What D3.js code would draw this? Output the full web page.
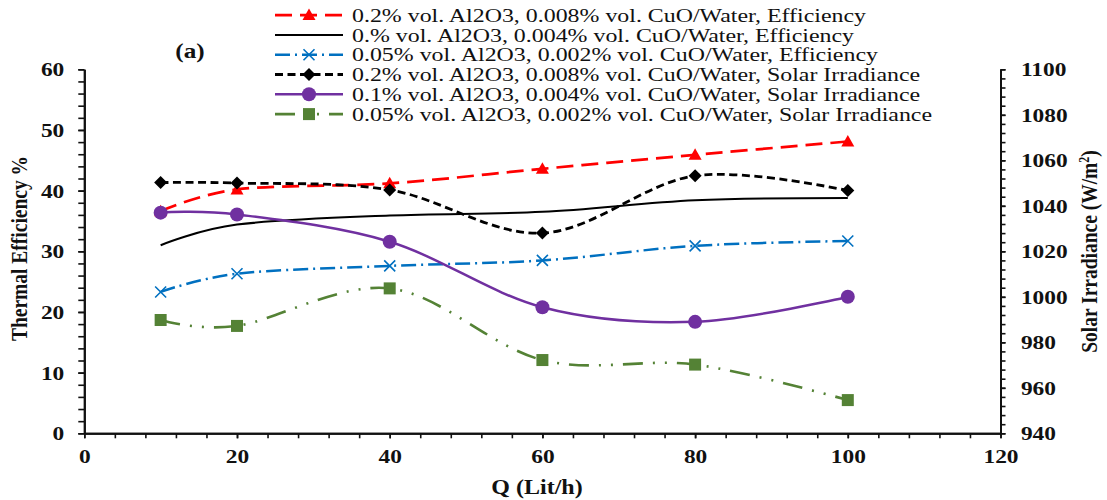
<!DOCTYPE html>
<html>
<head>
<meta charset="utf-8">
<script src="https://cdn.jsdelivr.net/npm/d3@7"></script>
<style>
html,body{margin:0;padding:0;background:#fff;}
svg{display:block;}
text{font-family:"Liberation Serif","Times New Roman",serif;}
</style>
</head>
<body>
<svg id="chart" width="1107" height="500"></svg>
<script>
// ---- data ----
const flowRates = [10, 20, 40, 60, 80, 100];
const effHigh = [36.6, 40.2, 41.2, 43.6, 45.9, 48.1];       // 0.2% Al2O3, 0.008% CuO, Efficiency
const effZero = [31.0, 34.4, 35.9, 36.5, 38.4, 38.8];       // 0.% Al2O3, 0.004% CuO, Efficiency
const effLow = [23.3, 26.3, 27.6, 28.5, 30.9, 31.7];        // 0.05% Al2O3, 0.002% CuO, Efficiency
const irrHigh = [1050.2, 1050.0, 1047.0, 1028.0, 1053.2, 1046.7]; // Solar Irradiance
const irrMid = [1037.0, 1036.2, 1024.2, 995.4, 989.0, 1000.0];
const irrLow = [989.8, 987.2, 1003.7, 972.2, 970.2, 954.6];
const xTicks = [0, 20, 40, 60, 80, 100, 120];
const yLeftTicks = [0, 10, 20, 30, 40, 50, 60];
const yRightTicks = [940, 960, 980, 1000, 1020, 1040, 1060, 1080, 1100];
const legendLabels = [
  "0.2% vol. Al2O3, 0.008% vol. CuO/Water, Efficiency",
  "0.% vol. Al2O3, 0.004% vol. CuO/Water, Efficiency",
  "0.05% vol. Al2O3, 0.002% vol. CuO/Water, Efficiency",
  "0.2% vol. Al2O3, 0.008% vol. CuO/Water, Solar Irradiance",
  "0.1% vol. Al2O3, 0.004% vol. CuO/Water, Solar Irradiance",
  "0.05% vol. Al2O3, 0.002% vol. CuO/Water, Solar Irradiance"
];

// ---- layout ----
const SX = 1.2; // horizontal glyph stretch of the reference
const SXL = 1.225;
const svg = d3.select("#chart");
const x = d3.scaleLinear().domain([0, 120]).range([84.3, 1000.5]);
const yL = d3.scaleLinear().domain([0, 60]).range([433.3, 69.3]);
const yR = d3.scaleLinear().domain([940, 1100]).range([433.3, 69.3]);

const series = [
  {vals: effHigh, axis: "L", color: "#ff0000", width: 2.7, dash: "17,8", marker: "triangle"},
  {vals: effZero, axis: "L", color: "#000000", width: 2, dash: null, marker: null},
  {vals: effLow, axis: "L", color: "#0070c0", width: 2.5, dash: "15,5,2,5", marker: "x"},
  {vals: irrHigh, axis: "R", color: "#000000", width: 2.8, dash: "8,4.5", marker: "diamond"},
  {vals: irrMid, axis: "R", color: "#7030a0", width: 2.5, dash: null, marker: "circle"},
  {vals: irrLow, axis: "R", color: "#548235", width: 2.6, dash: "20,10,2,10,2,10", marker: "square"}
];

function drawMarker(g, type, cx, cy, color) {
  if (!type) return;
  if (type === "triangle") {
    g.append("path").attr("d", `M${cx},${cy-6.5}L${cx+6.5},${cy+5}L${cx-6.5},${cy+5}Z`).attr("fill", color);
  } else if (type === "x") {
    g.append("path").attr("d", `M${cx-5.5},${cy-5.5}L${cx+5.5},${cy+5.5}M${cx+5.5},${cy-5.5}L${cx-5.5},${cy+5.5}`)
      .attr("stroke", color).attr("stroke-width", 1.6).attr("fill", "none");
  } else if (type === "diamond") {
    g.append("path").attr("d", `M${cx},${cy-6.5}L${cx+6.5},${cy}L${cx},${cy+6.5}L${cx-6.5},${cy}Z`).attr("fill", color);
  } else if (type === "circle") {
    g.append("circle").attr("cx", cx).attr("cy", cy).attr("r", 7).attr("fill", color);
  } else if (type === "square") {
    g.append("rect").attr("x", cx-6).attr("y", cy-6).attr("width", 12).attr("height", 12).attr("fill", color);
  }
}

// ---- axes ----
function styleAxis(g) {
  g.select(".domain").attr("stroke", "#111").attr("stroke-width", 2);
  g.selectAll(".tick line").attr("stroke", "#111").attr("stroke-width", 1.6);
  g.selectAll("text").attr("font-family", "Liberation Serif, serif").attr("font-weight", "bold")
    .attr("font-size", 19.5).attr("fill", "#111");
}
// bottom
const xMinor = d3.range(0, 121, 4);
svg.append("g").attr("transform", `translate(0,${yL(0)})`)
  .call(d3.axisBottom(x).tickValues(xMinor).tickFormat("").tickSize(5).tickSizeOuter(0))
  .call(styleAxis);
svg.append("g").attr("transform", `translate(0,${yL(0)})`)
  .call(d3.axisBottom(x).tickValues(xTicks).tickFormat(d3.format("d")).tickSize(5).tickSizeOuter(0))
  .call(styleAxis)
  .call(g => g.selectAll("text").attr("y", 30).attr("dy", 0).attr("transform", `scale(${SX},1)`));
// left
svg.append("g").attr("transform", `translate(${x(0)},0)`)
  .call(d3.axisLeft(yL).tickValues(d3.range(0, 61, 2)).tickFormat("").tickSize(6).tickSizeOuter(0))
  .call(styleAxis);
svg.append("g").attr("transform", `translate(${x(0)},0)`)
  .call(d3.axisLeft(yL).tickValues(yLeftTicks).tickFormat(d3.format("d")).tickSize(6).tickSizeOuter(0))
  .call(styleAxis)
  .call(g => g.selectAll("text").attr("x", -16.7).attr("dy", "0.34em").attr("transform", `scale(${SX},1)`));
// right
svg.append("g").attr("transform", `translate(${x(120)},0)`)
  .call(d3.axisRight(yR).tickValues(d3.range(940, 1101, 4)).tickFormat("").tickSize(5).tickSizeOuter(0))
  .call(styleAxis);
svg.append("g").attr("transform", `translate(${x(120)},0)`)
  .call(d3.axisRight(yR).tickValues(yRightTicks).tickFormat(d3.format("d")).tickSize(5).tickSizeOuter(0))
  .call(styleAxis)
  .call(g => g.selectAll("text").attr("x", 17).attr("dy", "0.34em").attr("transform", `scale(${SX},1)`));

// ---- series ----
series.forEach(s => {
  const ys = s.axis === "L" ? yL : yR;
  const line = d3.line().x((d, i) => x(flowRates[i])).y(d => ys(d)).curve(d3.curveCardinal.tension(0));
  const g = svg.append("g");
  g.append("path").attr("d", line(s.vals)).attr("fill", "none").attr("stroke", s.color)
    .attr("stroke-width", s.width).attr("stroke-dasharray", s.dash);
  s.vals.forEach((v, i) => drawMarker(g, s.marker, x(flowRates[i]), ys(v), s.color));
});

// ---- legend ----
const legBase = [21.7, 41.5, 61.3, 81.1, 100.9, 120.7];
series.forEach((s, i) => {
  const g = svg.append("g");
  const cy = legBase[i] - 6.6;
  g.append("line").attr("x1", 275).attr("x2", 343).attr("y1", cy).attr("y2", cy)
    .attr("stroke", s.color).attr("stroke-width", s.width).attr("stroke-dasharray", s.dash);
  drawMarker(g, s.marker, 309, cy, s.color);
  g.append("text").attr("transform", `translate(352,${legBase[i]}) scale(${SXL},1)`)
    .attr("font-size", 19.5).attr("fill", "#111").text(legendLabels[i]);
});

// ---- titles ----
svg.append("text").attr("transform", `translate(190,57.5) scale(${SX},1)`).attr("text-anchor", "middle")
  .attr("font-size", 21).attr("font-weight", "bold").attr("fill", "#111").text("(a)");
svg.append("text").attr("transform", `translate(537,494) scale(${SX},1)`).attr("text-anchor", "middle")
  .attr("font-size", 20).attr("font-weight", "bold").attr("fill", "#111").text("Q (Lit/h)");
svg.append("text").attr("transform", `translate(27,248.5) rotate(-90) scale(1,${SX})`).attr("text-anchor", "middle")
  .attr("font-size", 19.5).attr("font-weight", "bold").attr("fill", "#111").text("Thermal Efficiency %");
const rt = svg.append("text").attr("transform", `translate(1097,251.5) rotate(-90) scale(1,${SX})`).attr("text-anchor", "middle")
  .attr("font-size", 19.5).attr("font-weight", "bold").attr("fill", "#111");
rt.append("tspan").text("Solar Irradiance (W/m");
rt.append("tspan").attr("font-size", 12).attr("dy", -7).text("2");
rt.append("tspan").attr("dy", 7).text(")");
</script>
</body>
</html>
